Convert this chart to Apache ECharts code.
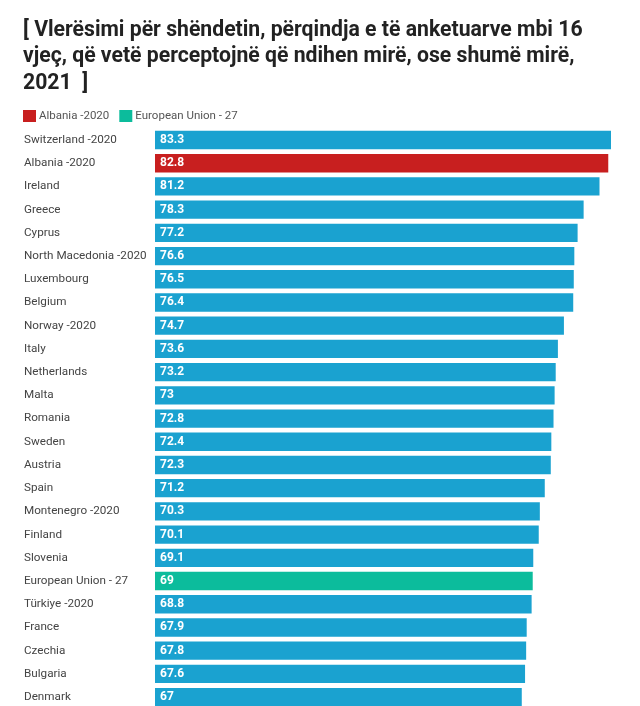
<!DOCTYPE html>
<html>
<head>
<meta charset="utf-8">
<script src="https://cdn.jsdelivr.net/npm/echarts@6/dist/echarts.min.js"></script>
<style>html,body{margin:0;padding:0;background:#fff}#c{width:640px;height:706px}</style>
</head>
<body>
<div id="c"></div>
<script>
const titleText = "[ Vlerësimi për shëndetin, përqindja e të anketuarve mbi 16\nvjeç, që vetë perceptojnë që ndihen mirë, ose shumë mirë,\n2021  ]";
const categories = ["Switzerland -2020","Albania -2020","Ireland","Greece","Cyprus","North Macedonia -2020","Luxembourg","Belgium","Norway -2020","Italy","Netherlands","Malta","Romania","Sweden","Austria","Spain","Montenegro -2020","Finland","Slovenia","European Union - 27","Türkiye -2020","France","Czechia","Bulgaria","Denmark"];
const values = [83.3,82.8,81.2,78.3,77.2,76.6,76.5,76.4,74.7,73.6,73.2,73,72.8,72.4,72.3,71.2,70.3,70.1,69.1,69,68.8,67.9,67.8,67.6,67];
const highlightAlbania = "Albania -2020";
const highlightEU = "European Union - 27";

const BLUE = "#1aa2d0", RED = "#c81f1f", GREEN = "#0cbc9c";

const others = values.map((v,i)=> (categories[i]===highlightAlbania||categories[i]===highlightEU) ? '-' : v);
const alb = values.map((v,i)=> categories[i]===highlightAlbania ? v : '-');
const eu = values.map((v,i)=> categories[i]===highlightEU ? v : '-');

const label = {show:true, position:'insideLeft', distance:5, color:'#fff', fontWeight:'bold', fontSize:12, fontFamily:'Roboto'};

const chart = echarts.init(document.getElementById('c'), null, {renderer:'canvas'});
chart.setOption({
  animation:false,
  title:{text:titleText, left:18, top:12, textStyle:{fontFamily:'Roboto', fontSize:21.2, fontWeight:'bold', color:'#222', lineHeight:26.7}},
  legend:{data:[highlightAlbania, highlightEU], left:18, top:105, itemWidth:13, itemHeight:12, itemGap:10, icon:'rect',
    textStyle:{fontFamily:'Roboto', fontSize:11.5, color:'#555', padding:[0,0,0,-2]}},
  grid:{left:155, right:29, top:128.4, height:580.3, containLabel:false, outerBoundsMode:'none'},
  xAxis:{type:'value', min:0, max:Math.max(...values), show:false},
  yAxis:{type:'category', data:categories, inverse:true, axisLine:{show:false}, axisTick:{show:false},
    axisLabel:{align:'left', margin:131, fontFamily:'Roboto', fontSize:11.7, color:'#444'}},
  series:[
    {name:'others', type:'bar', stack:'s', data:others, barCategoryGap:'21%', itemStyle:{color:BLUE}, label},
    {name:highlightAlbania, type:'bar', stack:'s', data:alb, itemStyle:{color:RED}, label},
    {name:highlightEU, type:'bar', stack:'s', data:eu, itemStyle:{color:GREEN}, label}
  ]
});
</script>
</body>
</html>
